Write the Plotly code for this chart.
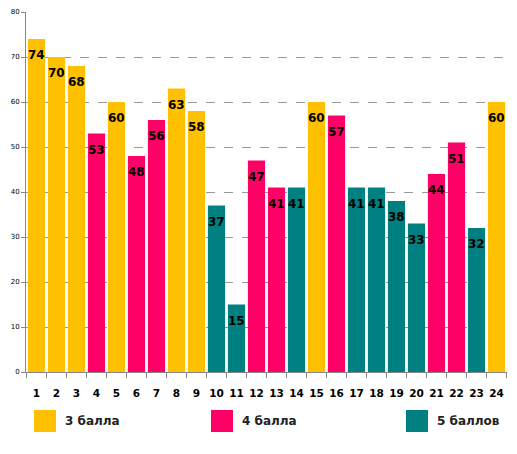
import plotly.graph_objects as go

# номера заданий и баллы
nomera = [str(i) for i in range(1, 25)]
znacheniya = [74, 70, 68, 53, 60, 48, 56, 63, 58, 37, 15, 47,
              41, 41, 60, 57, 41, 41, 38, 33, 44, 51, 32, 60]
ocenki = ["3 балла", "3 балла", "3 балла", "4 балла", "3 балла", "4 балла",
          "4 балла", "3 балла", "3 балла", "5 баллов", "5 баллов", "4 балла",
          "4 балла", "5 баллов", "3 балла", "4 балла", "5 баллов", "5 баллов",
          "5 баллов", "5 баллов", "4 балла", "4 балла", "5 баллов", "3 балла"]
kategorii = ["3 балла", "4 балла", "5 баллов"]
cveta = {"3 балла": "#FFC000", "4 балла": "#FF0066", "5 баллов": "#008080"}

# страница имеет отступ 8px, поэтому фигура чуть меньше окна
OFF = 8
W, H = 517 - OFF, 454 - OFF
L, R, T, B = 26 - OFF, 10, 12 - OFF, 82

fig = go.Figure()
fig.add_trace(go.Bar(
    x=nomera, y=znacheniya,
    marker=dict(color=[cveta[o] for o in ocenki], line=dict(width=0)),
    showlegend=False, hoverinfo="x+y",
))

# подписи значений внутри столбцов (x - номер позиции категории)
for i, v in enumerate(znacheniya):
    fig.add_annotation(x=i, y=v, text="<b>%d</b>" % v, showarrow=False,
                       yanchor="middle", yshift=-16,
                       font=dict(family="DejaVu Sans", size=12, color="black"))

# легенда внизу квадратами (координаты окна)
def px_x(p):
    return (p - OFF - L) / (W - L - R)

def px_y(p):
    return (H - B - (p - OFF)) / (H - T - B)

leg_x = [34, 211, 406]
for k, x0 in zip(kategorii, leg_x):
    fig.add_shape(type="rect", xref="paper", yref="paper",
                  x0=px_x(x0), x1=px_x(x0 + 22), y0=px_y(432), y1=px_y(410),
                  fillcolor=cveta[k], line=dict(width=0))
    fig.add_annotation(xref="paper", yref="paper", x=px_x(x0 + 29), y=px_y(421),
                       text="<b>" + k + "</b>", showarrow=False,
                       xanchor="left", yanchor="middle",
                       font=dict(family="DejaVu Sans", size=12, color="#222"))

fig.update_layout(
    width=W, height=H,
    margin=dict(l=L, r=R, t=T, b=B, autoexpand=False),
    plot_bgcolor="white", paper_bgcolor="white",
    bargap=0.14,
    font=dict(family="DejaVu Sans", color="black"),
)
fig.update_xaxes(type="category", tickson="boundaries", ticks="outside",
                 ticklen=5, tickcolor="#888", showline=True, linecolor="#888",
                 linewidth=1, showgrid=False, ticklabelstandoff=11, tickangle=0,
                 automargin=False,
                 tickfont=dict(size=10.5, weight="bold", color="black"))
fig.update_yaxes(range=[0, 80], dtick=10, ticks="outside", ticklen=4,
                 tickcolor="#888", showline=True, linecolor="#888",
                 linewidth=1, showgrid=True, gridcolor="#999",
                 griddash="dash", gridwidth=1, zeroline=False, automargin=False,
                 tickfont=dict(size=7, color="black"))

fig.write_html("out.html")
